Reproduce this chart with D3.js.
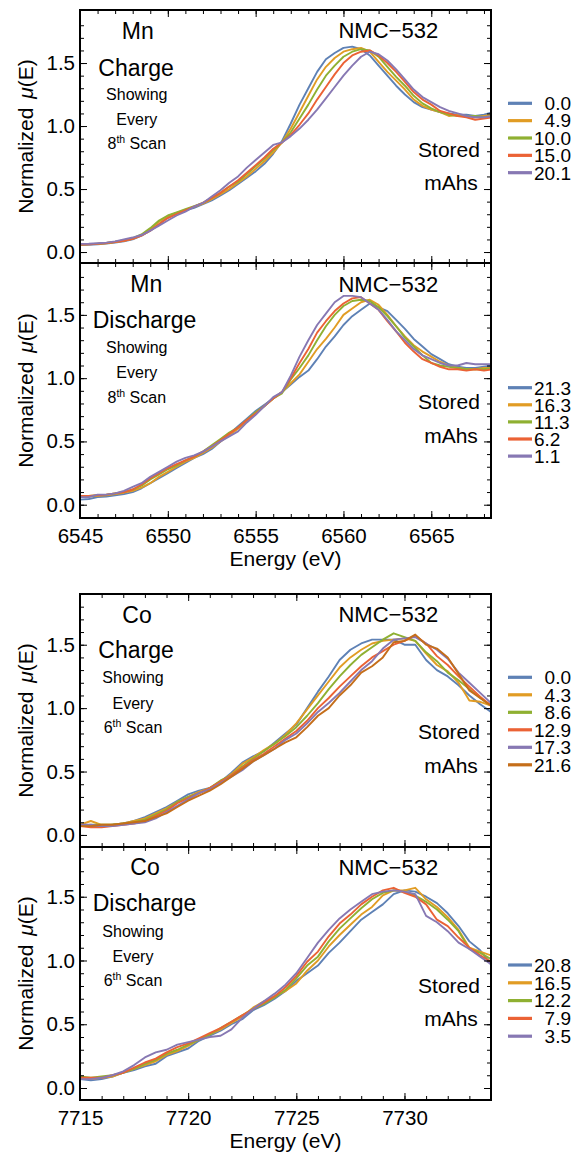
<!DOCTYPE html>
<html><head><meta charset="utf-8">
<script src="https://cdn.jsdelivr.net/npm/d3@7"></script>
<style>
body{margin:0;background:#fff}
text{font-family:"Liberation Sans",Arial,Helvetica,sans-serif;fill:#000}
</style>
</head><body>
<svg id="chart" width="578" height="1155"></svg>
<script>
// ---------- DATA ----------
const mnEnergy = [6545,6545.5,6546,6546.5,6547,6547.5,6548,6548.5,6549,6549.5,6550,
  6550.5,6551,6551.5,6552,6552.5,6553,6553.5,6554,6554.5,6555,6555.5,6556,6556.5,
  6557,6557.5,6558,6558.5,6559,6559.5,6560,
  6560.5,6561,6561.5,6562,6562.5,6563,6563.5,6564,6564.5,6565,6565.5,6566,6566.5,6567,6567.5,6568,6568.5];
const coEnergy = [7715,7715.5,7716,7716.5,7717,7717.5,7718,7718.5,7719,7719.5,7720,
  7720.5,7721,7721.5,7722,7722.5,7723,7723.5,7724,7724.5,7725,
  7725.5,7726,7726.5,7727,7727.5,7728,7728.5,7729,7729.5,7730,
  7730.5,7731,7731.5,7732,7732.5,7733,7733.5,7734];

const mnChargeLabels = ["0.0","4.9","10.0","15.0","20.1"];
const mnChargeValues = [
 [0.055,0.058,0.062,0.068,0.075,0.085,0.10,0.13,0.17,0.22,0.28, 0.31,0.33,0.35,0.38,0.41,0.45,0.49,0.54,0.59,0.64,0.70,0.78,0.88, 1.02,1.17,1.30,1.43,1.53,1.58,1.62, 1.63,1.61,1.56,1.48,1.40,1.32,1.25,1.19,1.15,1.13,1.11,1.10,1.09,1.09,1.08,1.09,1.11],
 [0.060,0.062,0.065,0.07,0.08,0.09,0.105,0.135,0.18,0.24,0.285, 0.31,0.335,0.36,0.385,0.42,0.46,0.50,0.55,0.60,0.66,0.72,0.79,0.87, 0.98,1.11,1.24,1.37,1.47,1.54,1.59, 1.61,1.62,1.59,1.51,1.43,1.36,1.29,1.21,1.16,1.13,1.11,1.08,1.09,1.08,1.07,1.08,1.09],
 [0.062,0.063,0.067,0.072,0.082,0.095,0.11,0.14,0.19,0.25,0.29, 0.315,0.34,0.365,0.39,0.43,0.47,0.52,0.56,0.62,0.68,0.74,0.81,0.87, 0.95,1.06,1.17,1.29,1.40,1.48,1.55, 1.59,1.61,1.60,1.55,1.47,1.39,1.32,1.24,1.18,1.14,1.11,1.09,1.08,1.08,1.08,1.07,1.08],
 [0.06,0.062,0.066,0.072,0.08,0.09,0.105,0.13,0.17,0.22,0.27, 0.30,0.33,0.36,0.39,0.43,0.47,0.52,0.57,0.63,0.69,0.75,0.82,0.87, 0.93,1.01,1.10,1.21,1.31,1.41,1.50, 1.56,1.59,1.60,1.56,1.50,1.43,1.35,1.27,1.21,1.17,1.12,1.10,1.08,1.07,1.05,1.06,1.07],
 [0.065,0.066,0.07,0.075,0.085,0.10,0.115,0.135,0.17,0.21,0.25, 0.29,0.32,0.36,0.39,0.44,0.49,0.55,0.60,0.67,0.73,0.79,0.85,0.87, 0.92,0.98,1.05,1.13,1.22,1.31,1.40, 1.48,1.55,1.59,1.57,1.52,1.45,1.37,1.29,1.23,1.19,1.15,1.12,1.10,1.08,1.07,1.07,1.08]
];

const mnDischargeLabels = ["21.3","16.3","11.3","6.2","1.1"];
const mnDischargeValues = [
 [0.04,0.045,0.06,0.065,0.075,0.085,0.10,0.13,0.17,0.21,0.25, 0.29,0.33,0.37,0.40,0.44,0.50,0.56,0.62,0.68,0.74,0.79,0.84,0.89, 0.95,1.01,1.06,1.15,1.25,1.33,1.42, 1.49,1.54,1.59,1.56,1.53,1.46,1.39,1.31,1.25,1.19,1.15,1.11,1.09,1.08,1.08,1.09,1.10],
 [0.06,0.065,0.07,0.075,0.085,0.095,0.11,0.135,0.17,0.22,0.26, 0.30,0.34,0.37,0.41,0.45,0.50,0.55,0.60,0.66,0.72,0.78,0.84,0.89, 0.96,1.03,1.13,1.23,1.31,1.40,1.50, 1.55,1.60,1.62,1.58,1.50,1.41,1.33,1.26,1.21,1.17,1.13,1.10,1.08,1.07,1.07,1.08,1.08],
 [0.065,0.07,0.075,0.08,0.09,0.10,0.12,0.15,0.20,0.24,0.28, 0.31,0.35,0.38,0.42,0.47,0.52,0.57,0.61,0.67,0.73,0.78,0.84,0.88, 0.99,1.08,1.18,1.30,1.41,1.50,1.57, 1.61,1.62,1.61,1.56,1.49,1.41,1.32,1.25,1.18,1.12,1.10,1.09,1.08,1.07,1.07,1.07,1.08],
 [0.07,0.07,0.075,0.08,0.09,0.10,0.12,0.16,0.21,0.25,0.29, 0.32,0.35,0.38,0.42,0.46,0.51,0.56,0.61,0.67,0.72,0.78,0.84,0.89, 1.00,1.12,1.23,1.36,1.45,1.53,1.59, 1.63,1.64,1.59,1.54,1.45,1.37,1.28,1.21,1.15,1.12,1.09,1.07,1.07,1.06,1.07,1.06,1.07],
 [0.06,0.06,0.08,0.08,0.09,0.11,0.14,0.17,0.22,0.26,0.30, 0.34,0.37,0.39,0.42,0.46,0.50,0.54,0.58,0.65,0.71,0.78,0.85,0.89, 1.02,1.17,1.30,1.42,1.51,1.60,1.65, 1.65,1.64,1.59,1.54,1.46,1.37,1.30,1.23,1.18,1.15,1.12,1.10,1.10,1.12,1.11,1.11,1.11]
];

const coChargeLabels = ["0.0","4.3","8.6","12.9","17.3","21.6"];
const coChargeValues = [
 [0.07,0.07,0.07,0.08,0.09,0.11,0.14,0.18,0.22,0.27,0.32, 0.35,0.37,0.42,0.49,0.57,0.62,0.66,0.73,0.80,0.87, 1.00,1.13,1.25,1.38,1.46,1.51,1.54,1.54,1.54,1.50, 1.50,1.38,1.30,1.25,1.18,1.10,1.03,0.97],
 [0.08,0.11,0.08,0.08,0.09,0.11,0.13,0.17,0.21,0.26,0.30, 0.34,0.37,0.42,0.48,0.56,0.61,0.67,0.72,0.79,0.88, 0.99,1.10,1.21,1.32,1.40,1.46,1.51,1.53,1.54,1.55, 1.53,1.43,1.34,1.29,1.20,1.06,1.05,1.02],
 [0.07,0.08,0.08,0.08,0.09,0.10,0.12,0.16,0.20,0.26,0.30, 0.33,0.37,0.43,0.47,0.54,0.60,0.66,0.72,0.78,0.85, 0.94,1.04,1.15,1.25,1.34,1.42,1.48,1.54,1.59,1.56, 1.53,1.44,1.37,1.28,1.22,1.15,1.08,1.02],
 [0.07,0.06,0.06,0.07,0.08,0.09,0.11,0.15,0.19,0.25,0.29, 0.33,0.37,0.42,0.47,0.53,0.59,0.64,0.70,0.76,0.82, 0.90,1.00,1.08,1.17,1.25,1.33,1.40,1.45,1.50,1.53, 1.57,1.51,1.41,1.34,1.25,1.17,1.09,1.02],
 [0.08,0.08,0.07,0.07,0.08,0.09,0.10,0.13,0.18,0.23,0.28, 0.33,0.36,0.41,0.46,0.51,0.58,0.63,0.68,0.75,0.80, 0.88,0.97,1.04,1.12,1.21,1.30,1.37,1.47,1.54,1.55, 1.56,1.51,1.46,1.39,1.28,1.20,1.12,1.04],
 [0.07,0.07,0.08,0.08,0.09,0.10,0.11,0.14,0.17,0.22,0.27, 0.31,0.35,0.40,0.46,0.52,0.58,0.63,0.68,0.73,0.77, 0.85,0.94,1.00,1.10,1.18,1.28,1.33,1.40,1.52,1.53, 1.58,1.50,1.47,1.40,1.27,1.14,1.08,1.02]
];

const coDischargeLabels = ["20.8","16.5","12.2","7.9","3.5"];
const coDischargeValues = [
 [0.07,0.06,0.07,0.09,0.12,0.14,0.17,0.19,0.25,0.28,0.31, 0.37,0.41,0.45,0.50,0.54,0.61,0.65,0.70,0.76,0.84, 0.90,0.96,1.06,1.14,1.23,1.32,1.38,1.44,1.52,1.55, 1.54,1.50,1.45,1.37,1.27,1.15,1.08,0.97],
 [0.08,0.07,0.08,0.09,0.12,0.15,0.18,0.21,0.26,0.29,0.33, 0.38,0.42,0.46,0.51,0.56,0.63,0.68,0.72,0.76,0.82, 0.92,1.00,1.11,1.20,1.28,1.36,1.42,1.51,1.55,1.55, 1.57,1.48,1.42,1.34,1.24,1.10,1.07,1.04],
 [0.09,0.08,0.09,0.10,0.12,0.15,0.19,0.22,0.27,0.30,0.34, 0.38,0.42,0.47,0.52,0.57,0.62,0.66,0.71,0.77,0.86, 0.96,1.03,1.15,1.25,1.33,1.41,1.48,1.53,1.55,1.54, 1.51,1.46,1.40,1.32,1.23,1.09,1.06,1.01],
 [0.08,0.08,0.08,0.10,0.12,0.16,0.20,0.23,0.28,0.32,0.35, 0.39,0.43,0.47,0.52,0.57,0.62,0.67,0.72,0.79,0.88, 0.99,1.07,1.19,1.29,1.36,1.44,1.50,1.55,1.57,1.53, 1.50,1.44,1.32,1.27,1.18,1.10,1.04,0.99],
 [0.07,0.07,0.08,0.10,0.13,0.18,0.24,0.28,0.30,0.34,0.36, 0.38,0.40,0.41,0.46,0.55,0.62,0.68,0.74,0.81,0.90, 1.02,1.14,1.24,1.33,1.40,1.46,1.52,1.54,1.55,1.54, 1.52,1.35,1.30,1.23,1.14,1.09,1.03,0.97]
];

const mnTickValues = [6545,6550,6555,6560,6565];
const coTickValues = [7715,7720,7725,7730];
const yTickValues = [0.0,0.5,1.0,1.5];
const palette = ["#5E81B5","#E19C24","#8FB032","#EB6235","#8778B3","#C56E1A"];

// ---------- LAYOUT ----------
const L = 80, R = 491;
const panels = [
 {top:10,  bottom:263,  ydom:[-0.087,1.921], E:mnEnergy, xdom:[6545,6568.4], xt:mnTickValues, minorStep:[6545,6569],
  vals:mnChargeValues, labels:mnChargeLabels, el:"Mn", mode:"Charge", every:"8",
  elPos:[137.7,39], modePos:[136,76], smallX:136.8, smallY:[100,125,149], nmcY:38.3, storedY:[157,190],
  legY:103.3, legStep:17.35, legAlign:"end", xlab:false},
 {top:263, bottom:518,  ydom:[-0.105,1.91], E:mnEnergy, xdom:[6545,6568.4], xt:mnTickValues, minorStep:[6545,6569],
  vals:mnDischargeValues, labels:mnDischargeLabels, el:"Mn", mode:"Discharge", every:"8",
  elPos:[146.3,291.7], modePos:[144.5,327.7], smallX:136.8, smallY:[353,378,402.7], nmcY:291.7, storedY:[409,443],
  legY:387.7, legStep:17.1, legAlign:"start", xlab:true},
 {top:594, bottom:847,  ydom:[-0.095,1.90], E:coEnergy, xdom:[7715,7734], xt:coTickValues, minorStep:[7715,7735],
  vals:coChargeValues, labels:coChargeLabels, el:"Co", mode:"Charge", every:"6",
  elPos:[137,622.7], modePos:[136,658.3], smallX:133, smallY:[683,709,733], nmcY:621.7, storedY:[739,772.7],
  legY:677.3, legStep:17.5, legAlign:"end", xlab:false},
 {top:847, bottom:1100, ydom:[-0.094,1.89], E:coEnergy, xdom:[7715,7734], xt:coTickValues, minorStep:[7715,7735],
  vals:coDischargeValues, labels:coDischargeLabels, el:"Co", mode:"Discharge", every:"6",
  elPos:[145,875], modePos:[144.5,910.7], smallX:133, smallY:[936.7,961.7,986], nmcY:875, storedY:[992.7,1026],
  legY:965, legStep:17.8, legAlign:"end", xlab:true}
];

const svg = d3.select("#chart");
const defs = svg.append("defs");

function txt(g, x, y, s, size, anchor){
  return g.append("text").attr("x",x).attr("y",y).attr("font-size",size)
    .attr("text-anchor",anchor||"middle").text(s);
}

panels.forEach((p,i)=>{
  const x = d3.scaleLinear().domain(p.xdom).range([L,R]);
  const y = d3.scaleLinear().domain(p.ydom).range([p.bottom,p.top]);
  const g = svg.append("g");
  const minorX = d3.range(p.minorStep[0], p.minorStep[1], 1).filter(v=>v<=p.xdom[1]);
  const minorY = d3.range(0, 19, 1).map(v=>v/10).filter(v=>v<=p.ydom[1]);

  defs.append("clipPath").attr("id","clip"+i).append("rect")
    .attr("x",L).attr("y",p.top).attr("width",R-L).attr("height",p.bottom-p.top);

  // lines
  const line = d3.line().x(d=>x(d[0])).y(d=>y(d[1]));
  const lg = g.append("g").attr("clip-path","url(#clip"+i+")");
  p.vals.forEach((vals,k)=>{
    lg.append("path").datum(p.E.map((e,j)=>[e,vals[j]]))
      .attr("d",line).attr("fill","none").attr("stroke",palette[k])
      .attr("stroke-width",1.9).attr("stroke-linejoin","round");
  });

  // axes (ticks inward)
  function styleAxis(a){
    a.select(".domain").remove();
    a.selectAll("line").attr("stroke","#000").attr("stroke-width",1);
    a.attr("font-family",null).attr("font-size",null);
  }
  const ax = [
    [d3.axisLeft(y).tickValues(minorY).tickSize(-4).tickFormat(""), `translate(${L},0)`],
    [d3.axisRight(y).tickValues(minorY).tickSize(-4).tickFormat(""), `translate(${R},0)`],
    [d3.axisRight(y).tickValues(yTickValues).tickSize(-7).tickFormat(""), `translate(${R},0)`],
    [d3.axisTop(x).tickValues(minorX).tickSize(-4).tickFormat(""), `translate(0,${p.top})`],
    [d3.axisTop(x).tickValues(p.xt).tickSize(-7).tickFormat(""), `translate(0,${p.top})`],
    [d3.axisBottom(x).tickValues(minorX).tickSize(-4).tickFormat(""), `translate(0,${p.bottom})`]
  ];
  ax.forEach(([a,t])=>{ const gg=g.append("g").attr("transform",t).call(a); styleAxis(gg); });

  const yl = g.append("g").attr("transform",`translate(${L},0)`)
    .call(d3.axisLeft(y).tickValues(yTickValues).tickSize(-7).tickPadding(5).tickFormat(d3.format(".1f")));
  styleAxis(yl);
  yl.selectAll("text").attr("font-size",20.5).attr("fill","#000");

  const xl = g.append("g").attr("transform",`translate(0,${p.bottom})`)
    .call(d3.axisBottom(x).tickValues(p.xt).tickSize(-7).tickPadding(10).tickFormat(p.xlab?d3.format("d"):""));
  styleAxis(xl);
  xl.selectAll("text").attr("font-size",20.5).attr("fill","#000");

  // frame
  g.append("rect").attr("x",L).attr("y",p.top).attr("width",R-L).attr("height",p.bottom-p.top)
    .attr("fill","none").attr("stroke","#000").attr("stroke-width",2);

  // y label
  const cy = (p.top+p.bottom)/2;
  const ylab = g.append("text").attr("transform",`translate(33,${cy}) rotate(-90)`)
    .attr("text-anchor","middle").attr("font-size",21);
  ylab.append("tspan").text("Normalized");
  ylab.append("tspan").attr("dx",9).attr("font-style","italic").text("\u03BC");
  ylab.append("tspan").text("(E)");

  if(p.xlab) txt(g, (L+R)/2, p.bottom+48, "Energy (eV)", 21);

  // annotations
  txt(g, p.elPos[0], p.elPos[1], p.el, 23);
  txt(g, p.modePos[0], p.modePos[1], p.mode, 23);
  txt(g, p.smallX, p.smallY[0], "Showing", 16);
  txt(g, p.smallX, p.smallY[1], "Every", 16);
  const sc = g.append("text").attr("x",p.smallX).attr("y",p.smallY[2]).attr("font-size",16).attr("text-anchor","middle");
  sc.append("tspan").text(p.every);
  sc.append("tspan").attr("font-size",10.5).attr("dy",-6).text("th");
  sc.append("tspan").attr("dy",6).text(" Scan");
  txt(g, 388.3, p.nmcY, "NMC\u2212532", 22);
  txt(g, 449, p.storedY[0], "Stored", 21);
  txt(g, 451, p.storedY[1], "mAhs", 21);

  // legend
  p.labels.forEach((lab,k)=>{
    const ly = p.legY + k*p.legStep;
    g.append("line").attr("x1",508).attr("x2",532).attr("y1",ly).attr("y2",ly)
      .attr("stroke",palette[k]).attr("stroke-width",3.2);
    txt(g, p.legAlign==="end"?571:534, ly+6.8, lab, 19, p.legAlign);
  });
});
</script>
</body></html>
